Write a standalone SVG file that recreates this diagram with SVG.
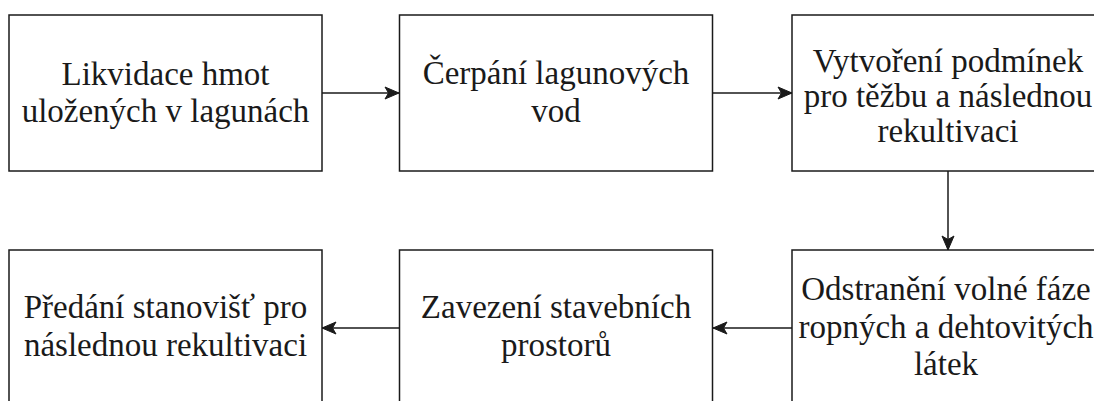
<svg xmlns="http://www.w3.org/2000/svg" width="1094" height="401" viewBox="0 0 1094 401" xml:lang="cs" lang="cs">
  <style>
    .box { fill: #ffffff; stroke: #1a1a1a; stroke-width: 1.5; }
    .edge { fill: none; stroke: #1a1a1a; stroke-width: 1.5; }
    text { font-family: "Liberation Serif", Tinos, "Times New Roman", serif; font-size: 33px; fill: #1a1a1a; text-anchor: middle; }
  </style>
  <defs>
    <marker id="arrow" markerUnits="userSpaceOnUse" markerWidth="16" markerHeight="16" viewBox="0 0 16 16" refX="15" refY="8" orient="auto">
      <path d="M1,2 L15,8 L1,14 L4.5,8 Z" fill="#1a1a1a" stroke="#1a1a1a" stroke-width="1" stroke-linejoin="miter"/>
    </marker>
  </defs>
  <rect width="1094" height="401" fill="#ffffff"/>

  <!-- flow arrows -->
  <g id="connectors">
    <line class="edge" x1="322" y1="93" x2="399" y2="93" marker-end="url(#arrow)"/>
    <line class="edge" x1="713" y1="93" x2="792" y2="93" marker-end="url(#arrow)"/>
    <line class="edge" x1="948" y1="171" x2="948" y2="250" marker-end="url(#arrow)"/>
    <line class="edge" x1="792" y1="328" x2="713" y2="328" marker-end="url(#arrow)"/>
    <line class="edge" x1="399" y1="328" x2="322" y2="328" marker-end="url(#arrow)"/>
  </g>

  <!-- top row -->
  <g id="node-likvidace">
    <rect class="box" x="9" y="15" width="313" height="156"/>
    <text x="165.5" y="84.5">Likvidace hmot</text>
    <text x="165.5" y="122">uložených v lagunách</text>
  </g>
  <g id="node-cerpani">
    <rect class="box" x="399.5" y="15" width="313" height="156"/>
    <text x="556" y="84">Čerpání lagunových</text>
    <text x="556" y="122">vod</text>
  </g>
  <g id="node-vytvoreni">
    <rect class="box" x="792" y="15" width="313" height="156"/>
    <text x="948" y="72">Vytvoření podmínek</text>
    <text x="948" y="106.5">pro těžbu a následnou</text>
    <text x="948" y="141.5">rekultivaci</text>
  </g>

  <!-- bottom row -->
  <g id="node-odstraneni">
    <rect class="box" x="792" y="250" width="313" height="156"/>
    <text x="946" y="300">Odstranění volné fáze</text>
    <text x="946" y="338">ropných a dehtovitých</text>
    <text x="946" y="375">látek</text>
  </g>
  <g id="node-zavezeni">
    <rect class="box" x="399.5" y="250" width="313" height="156"/>
    <text x="556" y="318">Zavezení stavebních</text>
    <text x="556" y="356">prostorů</text>
  </g>
  <g id="node-predani">
    <rect class="box" x="9" y="250" width="313" height="156"/>
    <text x="165.5" y="318">Předání stanovišť pro</text>
    <text x="165.5" y="356">následnou rekultivaci</text>
  </g>
</svg>
